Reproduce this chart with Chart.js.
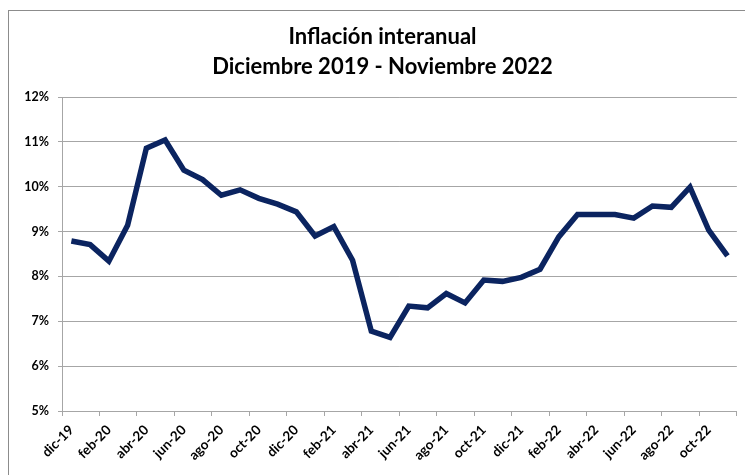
<!DOCTYPE html>
<html>
<head>
<meta charset="utf-8">
<script src="https://cdn.jsdelivr.net/npm/chart.js@4/dist/chart.umd.min.js"></script>
<style>
html,body{margin:0;padding:0;background:#fff;overflow:hidden}
#frame{position:absolute;left:8px;top:10px;width:800px;height:600px;border:1px solid #8c8c8c}
#wrap{position:absolute;left:0;top:0;width:745px;height:475px}
</style>
</head>
<body>
<div id="frame"></div>
<div id="wrap"><canvas id="chart" width="745" height="475"></canvas></div>
<script>
// meses dic-19 .. nov-22
const months=["dic-19","ene-20","feb-20","mar-20","abr-20","may-20","jun-20","jul-20","ago-20","sep-20","oct-20","nov-20",
"dic-20","ene-21","feb-21","mar-21","abr-21","may-21","jun-21","jul-21","ago-21","sep-21","oct-21","nov-21",
"dic-21","ene-22","feb-22","mar-22","abr-22","may-22","jun-22","jul-22","ago-22","sep-22","oct-22","nov-22"]

// inflacion interanual (%)
const inflacion=[8.79,8.71,8.34,9.14,10.86,11.04,10.37,10.16,9.81,9.93,9.74,9.61,
9.44,8.90,9.11,8.36,6.78,6.64,7.34,7.30,7.62,7.41,7.92,7.89,
7.98,8.16,8.88,9.38,9.38,9.38,9.30,9.57,9.54,9.99,9.03,8.46]

const titleLines=["Inflación interanual","Diciembre 2019 - Noviembre 2022"]

const grey="#a6a6a6"
const fontFam="Lato, 'Open Sans', sans-serif"

new Chart(document.getElementById("chart"),{
type:"line",
data:{
labels:months,
datasets:[{
data:inflacion,
borderColor:"#0b2460",
borderWidth:5.5,
pointRadius:0,
tension:0,
fill:false
}]
},
options:{
responsive:false,
animation:false,
layout:{padding:{top:10,right:5,left:25,bottom:0}},
plugins:{
legend:{display:false},
tooltip:{enabled:false},
title:{
display:true,
text:titleLines,
color:"#000",
font:{family:fontFam,size:22,weight:"bold",lineHeight:30/22},
padding:{top:12,bottom:15}
}
},
scales:{
x:{
offset:true,
grid:{offset:true,drawOnChartArea:false,drawTicks:true,tickLength:5,
tickColor:ctx=>ctx.index%2?"rgba(0,0,0,0)":grey},
border:{color:grey,width:1},
ticks:{
autoSkip:false,minRotation:45,maxRotation:45,padding:6,
color:"#000",font:{family:fontFam,size:13.5,weight:"bold"},
callback:function(v,i){return i%2?"":this.getLabelForValue(v)}
},
afterFit:s=>{s.height=64}
},
y:{
min:5,max:12,
grid:{color:grey,lineWidth:1,tickLength:4,tickColor:grey},
border:{color:grey,width:1},
ticks:{stepSize:1,padding:9,color:"#000",
font:{family:fontFam,size:12.5,weight:"bold"},
callback:v=>v+"%"},
afterFit:s=>{s.width=37}
}
}
}
})
</script>
</body>
</html>
